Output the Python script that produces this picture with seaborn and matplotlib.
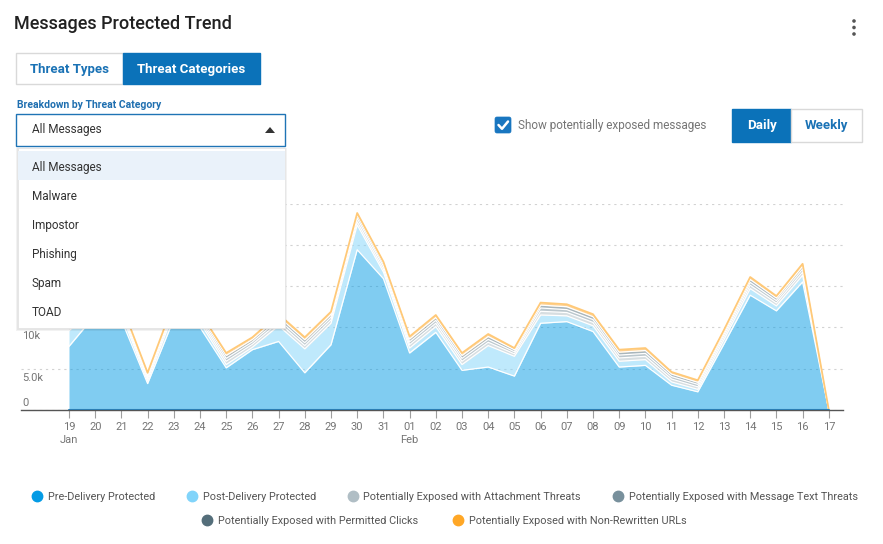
import numpy as np
import pandas as pd
import matplotlib
matplotlib.use("Agg")
import matplotlib.pyplot as plt
import matplotlib.transforms as mtrans
from matplotlib.patches import Rectangle, FancyBboxPatch, Polygon, Circle
from matplotlib.lines import Line2D
import seaborn as sns

# Dados do grafico
days = ["19", "20", "21", "22", "23", "24", "25", "26", "27", "28", "29", "30", "31",
        "01", "02", "03", "04", "05", "06", "07", "08", "09", "10", "11", "12", "13",
        "14", "15", "16", "17"]
month_labels = {0: "Jan", 13: "Feb"}

pre_delivery = [7700, 11500, 10900, 3200, 11000, 10000, 5100, 7300, 8300, 4500, 7900, 19400,
                15900, 6900, 9400, 4800, 5200, 4100, 10500, 10700, 9500, 5200, 5400, 3000,
                2200, 8000, 13900, 12000, 15500, 0]
post_delivery = [1900, 850, 700, 300, 800, 600, 400, 300, 1900, 2900, 2600, 3000, 800, 600,
                 700, 700, 2600, 2400, 1000, 700, 700, 700, 700, 400, 300, 500, 800, 600, 800, 0]
attachment = [400, 350, 350, 300, 350, 350, 400, 350, 400, 400, 400, 400, 350, 400, 400, 400,
              400, 300, 450, 400, 400, 400, 400, 350, 300, 350, 400, 350, 400, 0]
message_text = [350, 300, 300, 250, 300, 300, 350, 300, 350, 350, 350, 400, 350, 350, 350, 350,
                350, 250, 400, 350, 350, 350, 350, 300, 300, 300, 350, 300, 350, 0]
permitted_clicks = [350, 300, 300, 250, 300, 300, 350, 300, 350, 350, 350, 350, 300, 350, 350,
                    350, 350, 250, 350, 350, 350, 350, 350, 300, 250, 300, 350, 300, 350, 0]
non_rewritten = [300, 300, 250, 200, 250, 250, 300, 250, 300, 300, 300, 300, 250, 300, 300, 300,
                 300, 200, 300, 300, 300, 300, 300, 250, 250, 250, 300, 250, 300, 0]

series_names = ["Pre-Delivery Protected", "Post-Delivery Protected",
                "Potentially Exposed with Attachment Threats",
                "Potentially Exposed with Message Text Threats",
                "Potentially Exposed with Permitted Clicks",
                "Potentially Exposed with Non-Rewritten URLs"]
series_colors = ["#039be5", "#81d4fa", "#b0bec5", "#78909c", "#546e7a", "#ffa726"]

y_ticks = [0, 5000, 10000, 15000, 20000, 25000]
# os rotulos de 15k para cima ficam escondidos atras do menu aberto
y_tick_labels = ["0", "5.0k", "10k"]

menu_items = ["All Messages", "Malware", "Impostor", "Phishing", "Spam", "TOAD"]

df = pd.DataFrame({
    "day": days,
    series_names[0]: pre_delivery,
    series_names[1]: post_delivery,
    series_names[2]: attachment,
    series_names[3]: message_text,
    series_names[4]: permitted_clicks,
    series_names[5]: non_rewritten,
})
df["idx"] = np.arange(len(df))

sns.set_theme(style="white")
plt.rcParams["font.family"] = ["Roboto", "DejaVu Sans"]

W, H = 883, 544
fig = plt.figure(figsize=(W / 100, H / 100), dpi=100)
fig.patch.set_facecolor("white")

# eixo do grafico (posicao em pixels)
ax_l, ax_r, ax_b, ax_t = 21, 843, 410, 203.5
ax = fig.add_axes([ax_l / W, 1 - ax_b / H, (ax_r - ax_l) / W, (ax_b - ax_t) / H])

x = df["idx"].values
lower = np.zeros(len(df))
for name, col in zip(series_names, series_colors):
    upper = lower + df[name].values
    ax.fill_between(x, lower, upper, color=col, alpha=0.5, lw=0, zorder=2)
    lower = upper

# bordas entre camadas
cum = np.zeros(len(df))
for i, name in enumerate(series_names):
    cum = cum + df[name].values
    edge = "white" if i < len(series_names) - 1 else "#ffc978"
    lw = 0.9 if i < len(series_names) - 1 else 1.3
    sns.lineplot(x=x, y=cum, ax=ax, color=edge, lw=lw, zorder=3)
ax.plot(x, np.zeros(len(df)), color="#2b7db3", lw=1.5, zorder=4)

ax.set_xlim(-(69 - ax_l) / 26.2, 29 + (ax_r - 828.8) / 26.2)
ax.set_ylim(0, 25000)
ax.set_yticks(y_ticks)
ax.set_yticklabels([])
ax.tick_params(axis="y", length=0)
ax.grid(axis="y", color="#d2d2d2", lw=0.8, linestyle=(0, (2, 3.5)))
ax.set_axisbelow(True)
ax.set_xticks(x)
ax.set_xticklabels(days)
ax.tick_params(axis="x", length=6, width=0.8, color="#9e9e9e", labelcolor="#757575",
               labelsize=8, pad=3, direction="out", bottom=True)
for s in ["left", "top", "right"]:
    ax.spines[s].set_visible(False)
ax.spines["bottom"].set_color("#555555")
ax.spines["bottom"].set_linewidth(1)
ax.set_xlabel("")
ax.set_ylabel("")
if ax.get_legend():
    ax.get_legend().remove()

# rotulos do eixo y
for v, lab in zip(y_ticks, y_tick_labels):
    dy = 7 if v == 0 else -9
    tr = mtrans.offset_copy(ax.get_yaxis_transform(), fig=fig, x=1, y=dy, units="dots")
    ax.text(0, v, lab, transform=tr, ha="left", va="center", fontsize=8, color="#757575")

# meses
for i, m in month_labels.items():
    ax.text(i, -(440 - ax_b) / (ax_b - ax_t), m, transform=ax.get_xaxis_transform(),
            ha="center", va="center", fontsize=8, color="#757575")

# camada da interface
ov = fig.add_axes([0, 0, 1, 1], zorder=10)
ov.set_xlim(0, W)
ov.set_ylim(H, 0)
ov.axis("off")
ov.patch.set_alpha(0)

blue = "#0b72b9"
ov.text(14, 24, "Messages Protected Trend", fontsize=13, weight="medium",
        color="#212121", va="center", ha="left")
for yy in (21, 27.5, 34):
    ov.add_patch(Circle((854, yy), 1.8, color="#555555", lw=0))

ov.add_patch(Rectangle((16, 53), 107, 31, fc="white", ec="#d9d9d9", lw=1))
ov.add_patch(Rectangle((123, 53), 137, 31, fc=blue, ec=blue, lw=1))
ov.text(69.5, 69, "Threat Types", fontsize=9.5, weight="bold", color="#1a72b5",
        ha="center", va="center")
ov.text(191.5, 69, "Threat Categories", fontsize=9.5, weight="bold", color="white",
        ha="center", va="center")

ov.text(17, 105, "Breakdown by Threat Category", fontsize=7.5, weight="bold",
        color="#1f6fb0", ha="left", va="center")
ov.add_patch(Rectangle((16, 114), 269, 32, fc="white", ec="#1f74b5", lw=1))
ov.text(32, 130, "All Messages", fontsize=8.5, color="#333333", ha="left", va="center")
ov.add_patch(Polygon([(265, 133), (275, 133), (270, 127)], closed=True, fc="#333333", lw=0))

# menu aberto com sombra
for k, a in enumerate([0.05, 0.05, 0.06]):
    d = 3 - k
    ov.add_patch(Rectangle((18 - d + 1, 148), 267 + 2 * d - 2, 180 + d, fc="black",
                           alpha=a, lw=0))
ov.add_patch(Rectangle((18, 148), 267, 180, fc="white", ec="#e6e6e6", lw=0.6))
ov.add_patch(Rectangle((18, 151), 267, 29, fc="#eaf2fa", lw=0))
for k, item in enumerate(menu_items):
    ov.text(32, 168 + 28.8 * k, item, fontsize=8.5, color="#333333", ha="left", va="center")

# checkbox
ov.add_patch(FancyBboxPatch((495, 117), 16, 16, boxstyle="round,pad=0,rounding_size=2",
                            fc="#1976c0", ec="#1976c0", lw=0.5))
ov.plot([498.5, 502, 508], [125, 128.8, 121.5], color="white", lw=1.8,
        solid_capstyle="round", solid_joinstyle="round")
ov.text(518, 125, "Show potentially exposed messages", fontsize=8.5, color="#757575",
        ha="left", va="center")

ov.add_patch(Rectangle((732, 109), 59, 33, fc=blue, ec=blue, lw=1))
ov.add_patch(Rectangle((791, 109), 71, 33, fc="white", ec="#d9d9d9", lw=1))
ov.text(761.5, 125.5, "Daily", fontsize=9.5, weight="bold", color="white",
        ha="center", va="center")
ov.text(826.5, 125.5, "Weekly", fontsize=9.5, weight="bold", color="#1a72b5",
        ha="center", va="center")

# legenda em duas linhas
handles = [Line2D([], [], marker="o", linestyle="none", markersize=7.5,
                  markerfacecolor=c, markeredgecolor=c) for c in series_colors]
leg1 = fig.legend(handles[:4], series_names[:4], loc="center", ncol=4,
                  bbox_to_anchor=(444.5 / W, 1 - 497 / H), frameon=False, fontsize=7.8,
                  labelcolor="#555555", handlelength=1.0, handletextpad=0.5,
                  columnspacing=2.9)
leg2 = fig.legend(handles[4:], series_names[4:], loc="center", ncol=2,
                  bbox_to_anchor=(444 / W, 1 - 521 / H), frameon=False, fontsize=7.8,
                  labelcolor="#555555", handlelength=1.0, handletextpad=0.5,
                  columnspacing=3.2)

fig.savefig("out.png", dpi=100, facecolor="white")
